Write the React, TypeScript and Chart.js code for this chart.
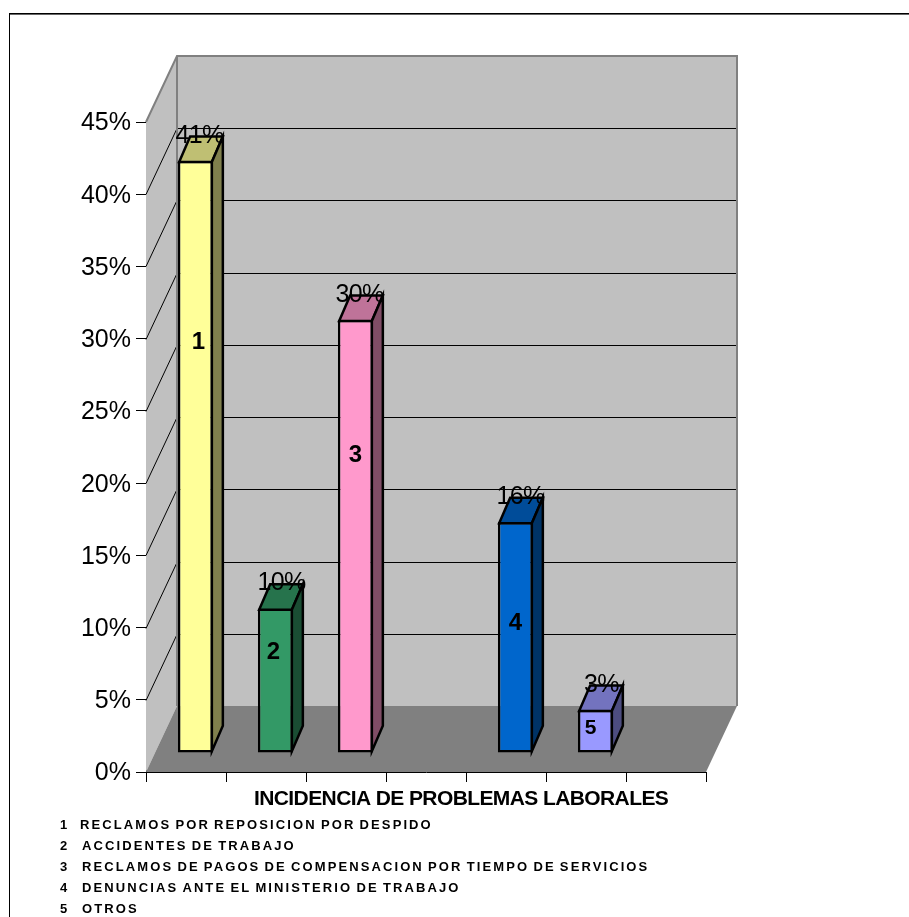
import React, { useEffect, useRef } from "react";
import { Chart, registerables } from "chart.js";

Chart.register(...registerables);

const categories = ["1", "2", "3", "", "4", "5", ""];
const incidence = [41, 10, 30, null, 16, 3, null];
const captionLevels = [28.4, 7, 20.6, null, 9, 1.7, null];
const captionNudge = [3, -2, 0, 0, 0, -5, 0];
const valueNudge = [4, 6, 4, 0, 5, 6, 0];
const yTicks = [0, 5, 10, 15, 20, 25, 30, 35, 40, 45];
const axisTitle = "INCIDENCIA DE PROBLEMAS LABORALES";
const legendIds = ["1", "2", "3", "4", "5"];
const legendTexts = [
  "RECLAMOS POR REPOSICION POR DESPIDO",
  "ACCIDENTES DE TRABAJO",
  "RECLAMOS DE PAGOS DE COMPENSACION POR TIEMPO DE SERVICIOS",
  "DENUNCIAS ANTE EL MINISTERIO DE TRABAJO",
  "OTROS",
];
const frontColors = ["#FFFF99", "#339966", "#FF99CC", "#000000", "#0066CC", "#9999FF", "#000000"];
const topColors = ["#BFBF73", "#26734C", "#BF7399", "#000000", "#004C99", "#7373BF", "#000000"];
const sideColors = ["#80804D", "#1A4D33", "#804D66", "#000000", "#003366", "#4D4D80", "#000000"];

// Perspective offsets of the box: wall depth, and the position and depth of each bar within it.
const WALL_DX = 31;
const WALL_DY = -66;
const BAR_DX = 9.5;
const BAR_DY = -19;
const BOX_DX = 11;
const BOX_DY = -25.5;
const BAR_LINE = 2.5;
const FONT = '"Liberation Sans", Arial, sans-serif';

function poly(ctx: CanvasRenderingContext2D, pts: number[][], fill: string | null, stroke: string | null, lw = 1) {
  ctx.beginPath();
  pts.forEach(([x, y], i) => (i ? ctx.lineTo(x, y) : ctx.moveTo(x, y)));
  ctx.closePath();
  if (fill) {
    ctx.fillStyle = fill;
    ctx.fill();
  }
  if (stroke) {
    ctx.strokeStyle = stroke;
    ctx.lineWidth = lw;
    ctx.lineJoin = "miter";
    ctx.stroke();
  }
}

// Draws the back wall, side wall and floor behind the bars.
const wallsPlugin = {
  id: "walls",
  beforeDatasetsDraw(chart: any) {
    const { ctx, chartArea: a, scales } = chart;
    const y = scales.y;
    const x0 = a.left;
    const x1 = a.right;
    const b = a.bottom;
    const t = a.top;
    ctx.save();
    poly(ctx, [[x0, b], [x0, t], [x0 + WALL_DX, t + WALL_DY], [x0 + WALL_DX, b + WALL_DY]], "#C0C0C0", null);
    poly(ctx, [[x0 + WALL_DX, t + WALL_DY], [x1 + WALL_DX, t + WALL_DY], [x1 + WALL_DX, b + WALL_DY], [x0 + WALL_DX, b + WALL_DY]], "#C0C0C0", null);
    poly(ctx, [[x0, b], [x1, b], [x1 + WALL_DX, b + WALL_DY], [x0 + WALL_DX, b + WALL_DY]], "#808080", null);

    ctx.strokeStyle = "#000000";
    ctx.lineWidth = 1;
    for (const v of yTicks) {
      if (v === 0 || v === 45) continue;
      const py = Math.round(y.getPixelForValue(v)) + 0.5;
      ctx.beginPath();
      ctx.moveTo(x0, py);
      ctx.lineTo(x0 + WALL_DX, py + WALL_DY);
      ctx.lineTo(x1 + WALL_DX, py + WALL_DY);
      ctx.stroke();
    }
    ctx.strokeStyle = "#808080";
    ctx.lineWidth = 2;
    ctx.beginPath();
    ctx.moveTo(x0, t);
    ctx.lineTo(x0 + WALL_DX, t + WALL_DY);
    ctx.lineTo(x1 + WALL_DX, t + WALL_DY);
    ctx.lineTo(x1 + WALL_DX, b + WALL_DY);
    ctx.moveTo(x0 + WALL_DX, t + WALL_DY);
    ctx.lineTo(x0 + WALL_DX, b + WALL_DY);
    ctx.stroke();
    ctx.restore();
  },
  // The front faces are the library's bars, shifted into the depth of the box.
  beforeDatasetDraw(chart: any) {
    chart.ctx.save();
    chart.ctx.translate(BAR_DX, BAR_DY);
  },
  afterDatasetDraw(chart: any, args: any) {
    const { ctx } = chart;
    ctx.restore();
    const els = args.meta.data;
    els.forEach((el: any, i: number) => {
      if (incidence[i] == null) return;
      const half = el.width / 2;
      const l = el.x - half + BAR_DX + BAR_LINE / 2;
      const r = el.x + half + BAR_DX - BAR_LINE / 2;
      const top = el.y + BAR_DY + BAR_LINE / 2;
      const bot = el.base + BAR_DY - BAR_LINE / 2;
      poly(ctx, [[l, top], [r, top], [r + BOX_DX, top + BOX_DY], [l + BOX_DX, top + BOX_DY]], topColors[i], "#000000", BAR_LINE);
      poly(ctx, [[r, top], [r + BOX_DX, top + BOX_DY], [r + BOX_DX, bot + BOX_DY], [r, bot]], sideColors[i], "#000000", BAR_LINE);
    });
  },
  // Value labels, captions on the bars, the axis title and the numbered list.
  afterDraw(chart: any) {
    const { ctx, scales } = chart;
    const meta = chart.getDatasetMeta(0);
    ctx.save();
    ctx.textAlign = "center";
    ctx.textBaseline = "middle";
    meta.data.forEach((el: any, i: number) => {
      if (incidence[i] == null) return;
      const cx = el.x + BAR_DX;
      ctx.fillStyle = "#000000";
      ctx.font = `25px ${FONT}`;
      (ctx as any).letterSpacing = "-0.6px";
      ctx.fillText(`${incidence[i]}%`, cx + valueNudge[i], el.y + BAR_DY - 25);
      (ctx as any).letterSpacing = "0px";
      ctx.font = `bold ${i === 5 ? 21 : 24}px ${FONT}`;
      ctx.fillText(categories[i], cx + captionNudge[i], scales.y.getPixelForValue(captionLevels[i]) + BAR_DY);
    });
    ctx.textAlign = "left";
    ctx.font = `bold 21px ${FONT}`;
    (ctx as any).letterSpacing = "-0.6px";
    ctx.fillText(axisTitle, 254, 799);
    ctx.font = `bold 13px ${FONT}`;
    legendTexts.forEach((text, i) => {
      const py = 825.5 + i * 21.1;
      (ctx as any).letterSpacing = "0px";
      (ctx as any).wordSpacing = "0px";
      ctx.fillText(legendIds[i], 60, py);
      (ctx as any).letterSpacing = "2.1px";
      (ctx as any).wordSpacing = "-1.5px";
      ctx.fillText(text, i === 0 ? 80 : 82, py);
    });
    ctx.restore();
  },
};

// Top and left rules of the figure's border, and the white page behind it.
const framePlugin = {
  id: "frame",
  beforeDraw(chart: any) {
    const { ctx } = chart;
    ctx.save();
    ctx.fillStyle = "#FFFFFF";
    ctx.fillRect(0, 0, chart.width, chart.height);
    ctx.fillStyle = "#000000";
    ctx.fillRect(9, 13, chart.width - 9, 1);
    ctx.fillRect(9, 13, 1, chart.height - 13);
    ctx.fillStyle = "#666666";
    ctx.fillRect(10, 14, chart.width - 10, 1);
    ctx.restore();
  },
};

export default function App() {
  const ref = useRef<HTMLCanvasElement | null>(null);
  useEffect(() => {
    if (!ref.current) return;
    const chart = new Chart(ref.current, {
      type: "bar",
      data: {
        labels: categories,
        datasets: [
          {
            data: incidence,
            backgroundColor: frontColors,
            borderColor: "#000000",
            borderWidth: BAR_LINE,
            borderSkipped: false,
            barPercentage: 0.44,
            categoryPercentage: 1,
            clip: false,
          } as any,
        ],
      },
      options: {
        responsive: false,
        animation: false,
        plugins: { legend: { display: false }, tooltip: { enabled: false } },
        layout: { padding: { left: 0, right: 203, top: 122, bottom: 0 } },
        scales: {
          x: {
            grid: { drawOnChartArea: false, drawTicks: true, tickLength: 10, color: "#000000" },
            border: { display: true, color: "#000000", width: 1 },
            ticks: { display: false },
            afterFit: (s: any) => {
              s.height = 145;
            },
          },
          y: {
            min: 0,
            max: 45,
            grid: { drawOnChartArea: false, drawTicks: true, tickLength: 10, color: "#000000" },
            border: { display: true, color: "#000000", width: 1 },
            ticks: {
              stepSize: 5,
              color: "#000000",
              padding: 5,
              labelOffset: 1.5,
              font: { size: 25, family: FONT },
              callback: (v: any) => `${v}%`,
            },
            afterFit: (s: any) => {
              s.width = 146;
            },
          },
        },
      },
      plugins: [framePlugin, wallsPlugin],
    } as any);
    return () => chart.destroy();
  }, []);
  return (
    <canvas
      ref={ref}
      width={909}
      height={917}
      style={{ position: "fixed", left: 0, top: 0, display: "block", width: 909, height: 917 }}
    />
  );
}
